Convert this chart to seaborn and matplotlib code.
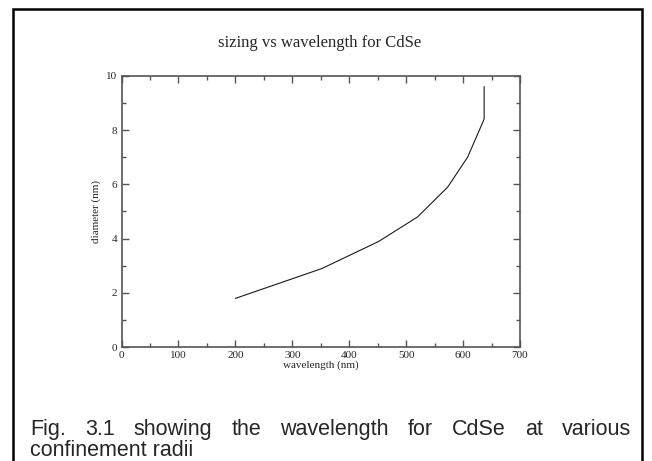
import numpy as np
import pandas as pd
import matplotlib
matplotlib.use("Agg")
import matplotlib.pyplot as plt
import matplotlib.patches as patches
from matplotlib.ticker import MultipleLocator
import seaborn as sns

# data
wavelength = [200, 352, 452, 520, 573, 608, 637, 637]
diameter = [1.8, 2.9, 3.9, 4.8, 5.9, 7.0, 8.4, 9.6]

title = "sizing vs wavelength for CdSe"
xlabel = "wavelength (nm)"
ylabel = "diameter (nm)"
caption_line1 = "Fig. 3.1 showing the wavelength for CdSe at various"
caption_line2 = "confinement radii"

W, H = 652, 461

sns.set_style("ticks")
plt.rcParams["font.family"] = ["Liberation Serif", "DejaVu Serif"]

fig = plt.figure(figsize=(W / 100, H / 100), dpi=100)

# outer frame around figure + caption (bottom edge runs off the image)
frame = patches.Rectangle((13 / W, 1 - 470 / H), (642 - 13) / W, (470 - 9) / H,
                          transform=fig.transFigure, fill=False,
                          edgecolor="black", linewidth=1.8)
fig.patches.append(frame)

ax = fig.add_axes([121.5 / W, 1 - 347.3 / H, (520 - 121.5) / W, (347.3 - 75.7) / H])

df = pd.DataFrame({"wavelength": wavelength, "diameter": diameter})
sns.lineplot(data=df, x="wavelength", y="diameter", sort=False, estimator=None,
             color="#1a1a1a", linewidth=0.8, ax=ax)

ax.set_xlim(0, 700)
ax.set_ylim(0, 10)
ax.xaxis.set_major_locator(MultipleLocator(100))
ax.xaxis.set_minor_locator(MultipleLocator(50))
ax.yaxis.set_major_locator(MultipleLocator(2))
ax.yaxis.set_minor_locator(MultipleLocator(1))
ax.tick_params(which="both", direction="in", top=True, right=True,
               color="#555555", labelsize=8, pad=3)
ax.tick_params(which="major", length=5, width=1)
ax.tick_params(which="minor", length=3, width=1)
for s in ax.spines.values():
    s.set_visible(True)
    s.set_color("#555555")
    s.set_linewidth(1.2)

ax.set_xlabel(xlabel, fontsize=8, labelpad=0)
ax.set_ylabel(ylabel, fontsize=8, labelpad=4)
fig.text(320 / W, 1 - 43 / H, title, ha="center", va="center", fontsize=12)

# justified caption (Arial-like)
cap_font = dict(family="Liberation Sans", fontsize=15.5)
fig.canvas.draw()
renderer = fig.canvas.get_renderer()
words = caption_line1.split(" ")
x0, x1 = 30, 631
widths = []
for w in words:
    t = fig.text(0, 0, w, **cap_font)
    widths.append(t.get_window_extent(renderer).width)
    t.remove()
gap = (x1 - x0 - sum(widths)) / (len(words) - 1)
x = x0
for w, wd in zip(words, widths):
    fig.text(x / W, 1 - 435 / H, w, ha="left", va="baseline", **cap_font)
    x += wd + gap
fig.text(x0 / W, 1 - 456 / H, caption_line2, ha="left", va="baseline", **cap_font)

fig.savefig("out.png", dpi=100)
